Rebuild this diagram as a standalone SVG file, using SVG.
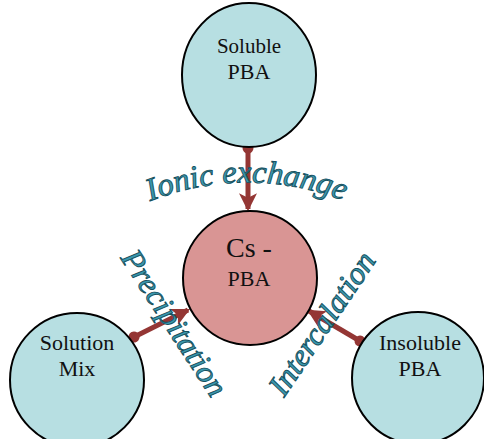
<svg xmlns="http://www.w3.org/2000/svg" width="484" height="439" viewBox="0 0 484 439">
<style>
.node{stroke:#000;stroke-width:2}
.blue{fill:#B7DFE2}
.red{fill:#D99594}
.lbl{font-family:"Liberation Serif","Times New Roman",serif;fill:#111;text-anchor:middle}
.conn{stroke:#943634;stroke-width:5;fill:none}
.wa{font-family:"Liberation Serif","Times New Roman",serif;font-style:italic;fill:#3A98AE;stroke:#17505E;stroke-width:0.9}
</style>
<defs>
<marker id="ah" viewBox="0 0 16 16" markerWidth="18" markerHeight="18" refX="14" refY="8" markerUnits="userSpaceOnUse" orient="auto">
<path d="M0,0 L16,8 L0,16 L4,8 z" fill="#943634"/>
</marker>
<marker id="tail" viewBox="0 0 12 12" markerWidth="12" markerHeight="12" refX="6" refY="6" markerUnits="userSpaceOnUse" orient="auto">
<circle cx="6" cy="6" r="5.5" fill="#943634"/>
</marker>
<path id="arcIonic" d="M150,201 Q250,163 350,203"/>
</defs>
<g id="connectors">
<line class="conn" x1="248" y1="148" x2="248" y2="209" marker-start="url(#tail)" marker-end="url(#ah)"/>
<line class="conn" x1="134" y1="337" x2="188" y2="310" marker-start="url(#tail)" marker-end="url(#ah)"/>
<line class="conn" x1="360" y1="341" x2="309" y2="311" marker-start="url(#tail)" marker-end="url(#ah)"/>
</g>
<g id="soluble">
<ellipse class="node blue" cx="249" cy="75" rx="67" ry="72"/>
<text class="lbl" x="249" y="53" font-size="21">Soluble</text>
<text class="lbl" x="249" y="79" font-size="22">PBA</text>
</g>
<g id="cspba">
<circle class="node red" cx="250" cy="278" r="67"/>
<text class="lbl" x="249" y="257" font-size="28">Cs -</text>
<text class="lbl" x="249" y="286" font-size="22">PBA</text>
</g>
<g id="solution">
<circle class="node blue" cx="77" cy="380" r="67"/>
<text class="lbl" x="77" y="350" font-size="22">Solution</text>
<text class="lbl" x="77" y="376" font-size="22">Mix</text>
</g>
<g id="insoluble">
<circle class="node blue" cx="418" cy="378" r="66"/>
<text class="lbl" x="420" y="350" font-size="22">Insoluble</text>
<text class="lbl" x="420" y="376" font-size="22">PBA</text>
</g>
<g id="labels">
<text class="wa" font-size="32"><textPath href="#arcIonic" textLength="198" lengthAdjust="spacingAndGlyphs">Ionic exchange</textPath></text>
<text class="wa" font-size="31" transform="translate(120,258) rotate(57)" textLength="168" lengthAdjust="spacingAndGlyphs">Precipitation</text>
<text class="wa" font-size="31" transform="translate(284,398) rotate(-56)" textLength="166" lengthAdjust="spacingAndGlyphs">Intercalation</text>
</g>
</svg>
